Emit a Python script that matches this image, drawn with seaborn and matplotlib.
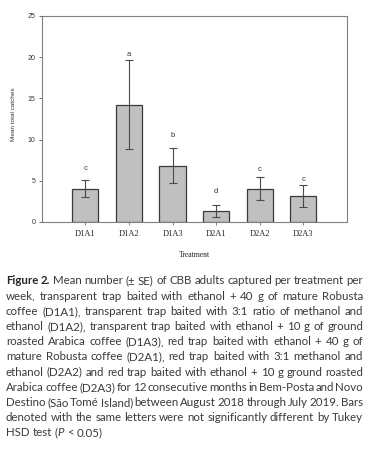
import matplotlib
matplotlib.use("Agg")
import matplotlib.pyplot as plt
import seaborn as sns
import pandas as pd

# data
treatments = ["D1A1", "D1A2", "D1A3", "D2A1", "D2A2", "D2A3"]
means = [4.05, 14.25, 6.8, 1.33, 4.05, 3.12]
se = [1.02, 5.45, 2.12, 0.78, 1.43, 1.31]
letters = ["c", "a", "b", "d", "c", "c"]
letter_y = [6.5, 20.3, 10.55, 3.7, 6.4, 5.1]

caption_lines = [
    "Figure 2. Mean number (± SE) of CBB adults captured per treatment per",
    "week, transparent trap baited with ethanol + 40 g of mature Robusta",
    "coffee (D1A1), transparent trap baited with 3:1 ratio of methanol and",
    "ethanol (D1A2), transparent trap baited with ethanol + 10 g of ground",
    "roasted Arabica coffee (D1A3), red trap baited with ethanol + 40 g of",
    "mature Robusta coffee (D2A1), red trap baited with 3:1 methanol and",
    "ethanol (D2A2) and red trap baited with ethanol + 10 g ground roasted",
    "Arabica coffee (D2A3) for 12 consecutive months in Bem-Posta and Novo",
    "Destino (São Tomé Island) between August 2018 through July 2019. Bars",
    "denoted with the same letters were not significantly different by Tukey",
    "HSD test (P < 0.05)",
]

df = pd.DataFrame({"treatment": treatments, "mean": means})

sns.set_style("white")
W, H = 380, 451
fig = plt.figure(figsize=(W / 100, H / 100), dpi=100)
ax = fig.add_axes([41.7 / W, 1 - 222 / H, (347 - 41.7) / W, (222 - 16) / H])

sns.barplot(data=df, x="treatment", y="mean", color="#c0c0c0",
            edgecolor="#3a3a3a", linewidth=0.9, width=0.6, saturation=1, ax=ax)
ax.errorbar(range(len(treatments)), means, yerr=se, fmt="none",
            ecolor="#4a4a4a", elinewidth=0.8, capsize=3, capthick=0.8)
for i, (ly, l) in enumerate(zip(letter_y, letters)):
    ax.text(i, ly, l, ha="center", va="center", fontsize=5.5,
            family="Liberation Sans", color="#333333")

ax.set_xlim(-1, 6)
ax.set_ylim(0, 25)
ax.set_yticks([0, 5, 10, 15, 20, 25])
for sp in ax.spines.values():
    sp.set_color("#808080")
    sp.set_linewidth(0.8)
ax.tick_params(axis="y", direction="out", length=2.5, width=0.6, color="#555555",
               labelsize=5, pad=2, left=True, labelcolor="#333333")
ax.tick_params(axis="x", direction="out", length=2, width=0.5, color="#555555",
               labelsize=6, pad=4, bottom=True, labelcolor="#222222")
for t in ax.get_yticklabels():
    t.set_family("Liberation Sans")
for t in ax.get_xticklabels():
    t.set_family("Liberation Serif")
ax.set_xlabel("Treatment", family="Liberation Serif", fontsize=5.5, labelpad=9,
              color="#222222")
ax.set_ylabel("Mean total catches", family="Liberation Sans", fontsize=4.6,
              color="#333333")
ax.yaxis.set_label_coords(-0.083, 0.524)

# justified caption
x0, x1 = 6, 363
y_first, dy = 281, 15.2
fs = 8.3
renderer = fig.canvas.get_renderer()
for li, line in enumerate(caption_lines):
    words = line.split(" ")
    objs = []
    for wi, w in enumerate(words):
        kw = dict(fontsize=fs, family="Lato", color="#3a3a3a", va="center", ha="left")
        if li == 0 and wi < 2:
            kw["fontweight"] = "bold"
            kw["color"] = "#262626"
        if li == len(caption_lines) - 1 and w == "(P":
            t1 = fig.text(0, 0, "(", **kw)
            t2 = fig.text(0, 0, "P", style="italic", **kw)
            objs.append([t1, t2])
            continue
        objs.append([fig.text(0, 0, w, **kw)])
    widths = []
    for grp in objs:
        widths.append([g.get_window_extent(renderer).width for g in grp])
    total = sum(sum(w) for w in widths)
    space = 0.26 * fs * 100 / 72
    if li < len(caption_lines) - 1 and len(objs) > 1:
        gap = (x1 - x0 - total) / (len(objs) - 1)
    else:
        gap = space
    x = x0
    y = 1 - (y_first + li * dy) / H
    for grp, ws in zip(objs, widths):
        for g, w in zip(grp, ws):
            g.set_position((x / W, y))
            x += w
        x += gap

fig.savefig("out.png", dpi=100)
